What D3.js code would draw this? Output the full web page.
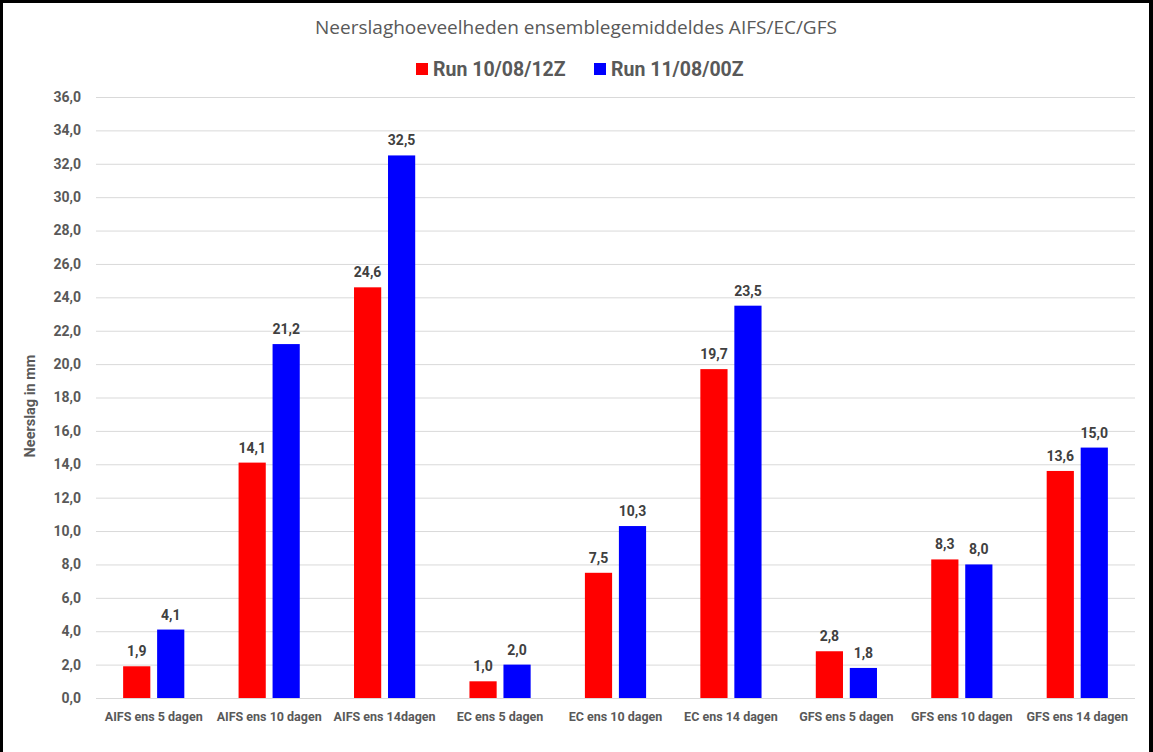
<!DOCTYPE html>
<html lang="nl">
<head>
    <meta charset="UTF-8">
    <title>Neerslaghoeveelheden</title>
    <script src="https://cdn.jsdelivr.net/npm/d3@7/dist/d3.min.js"></script>
    <style>
        html, body { margin: 0; padding: 0; background: #000; }
        svg { display: block; }
        text { font-family: "Roboto", sans-serif; fill: #595959; }
    </style>
</head>
<body>
    <svg width="1153" height="752"></svg>

    <script>
        // data
        const categories = ["AIFS ens 5 dagen", "AIFS ens 10 dagen", "AIFS ens 14dagen",
            "EC ens 5 dagen", "EC ens 10 dagen", "EC ens 14 dagen",
            "GFS ens 5 dagen", "GFS ens 10 dagen", "GFS ens 14 dagen"];
        const seriesNames = ["Run 10/08/12Z", "Run 11/08/00Z"];
        const run1 = [1.9, 14.1, 24.6, 1.0, 7.5, 19.7, 2.8, 8.3, 13.6];
        const run2 = [4.1, 21.2, 32.5, 2.0, 10.3, 23.5, 1.8, 8.0, 15.0];
        const yTicks = d3.range(0, 37, 2);
        const colors = ["#ff0000", "#0000ff"];

        const svg = d3.select("svg");
        const fmt = d => d.toFixed(1).replace(".", ",");

        // frame
        svg.append("rect").attr("x", 3).attr("y", 3)
            .attr("width", 1146).attr("height", 752).attr("fill", "#fff");

        const m = { left: 96, right: 1135, top: 97, bottom: 698 };

        const x0 = d3.scaleBand().domain(categories)
            .range([m.left, m.right]).paddingInner(0.47).paddingOuter(0.235);
        const x1 = d3.scaleBand().domain([0, 1])
            .range([0, x0.bandwidth()]).paddingInner(0.2);
        const y = d3.scaleLinear().domain([0, 36]).range([m.bottom, m.top]);

        // gridlines
        svg.append("g").selectAll("line").data(yTicks).join("line")
            .attr("x1", m.left).attr("x2", m.right)
            .attr("y1", d => y(d) + 0.5).attr("y2", d => y(d) + 0.5)
            .attr("stroke", "#d9d9d9").attr("stroke-width", 1);

        // y axis labels
        svg.append("g").selectAll("text").data(yTicks).join("text")
            .attr("x", 81).attr("y", d => y(d)).attr("dy", "0.35em")
            .attr("text-anchor", "end")
            .style("font-size", "14px").style("font-weight", "bold")
            .text(fmt);

        // x axis labels
        svg.append("g").selectAll("text").data(categories).join("text")
            .attr("x", d => x0(d) + x0.bandwidth() / 2).attr("y", 721)
            .attr("text-anchor", "middle")
            .style("font-size", "12.5px").style("font-weight", "bold")
            .text(d => d);

        // bars
        const series = [run1, run2];
        series.forEach((vals, s) => {
            const g = svg.append("g");
            g.selectAll("rect").data(vals).join("rect")
                .attr("x", (d, i) => x0(categories[i]) + x1(s))
                .attr("width", x1.bandwidth())
                .attr("y", d => y(d))
                .attr("height", d => y(0) - y(d))
                .attr("fill", colors[s]);
            g.selectAll("text").data(vals).join("text")
                .attr("x", (d, i) => x0(categories[i]) + x1(s) + x1.bandwidth() / 2)
                .attr("y", d => y(d) - 10)
                .attr("text-anchor", "middle")
                .style("font-size", "14px").style("font-weight", "bold")
                .style("fill", "#404040")
                .text(fmt);
        });

        // title
        svg.append("text")
            .attr("x", 576).attr("y", 34)
            .attr("text-anchor", "middle")
            .style("font-family", "'Open Sans', sans-serif")
            .style("font-size", "19px")
            .text("Neerslaghoeveelheden ensemblegemiddeldes AIFS/EC/GFS");

        // y axis title
        svg.append("text")
            .attr("transform", "translate(35,406) rotate(-90)")
            .attr("text-anchor", "middle")
            .style("font-size", "14.5px").style("font-weight", "bold")
            .text("Neerslag in mm");

        // legend
        const legendX = [416, 594];
        const legend = svg.append("g").selectAll("g").data(seriesNames).join("g")
            .attr("transform", (d, i) => "translate(" + legendX[i] + ",63)");
        legend.append("rect").attr("width", 12).attr("height", 12)
            .attr("fill", (d, i) => colors[i]);
        legend.append("text").attr("x", 17).attr("y", 6).attr("dy", "0.36em")
            .style("font-size", "19.5px").style("font-weight", "bold")
            .text(d => d);
    </script>
</body>
</html>
